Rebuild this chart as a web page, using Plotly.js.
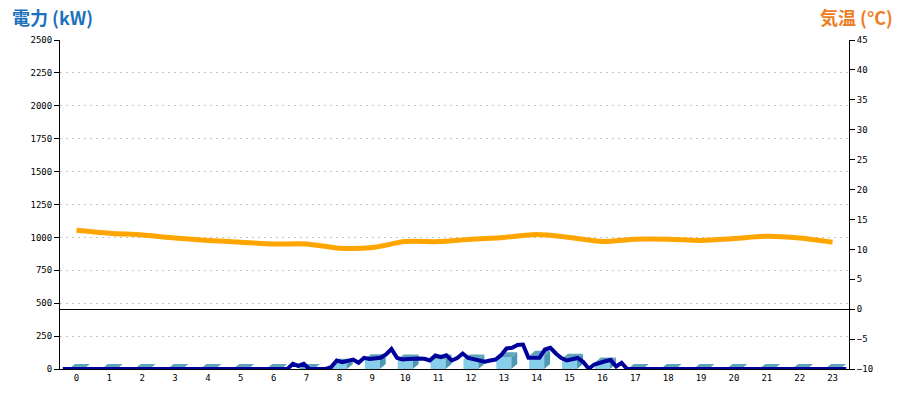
<!DOCTYPE html>
<html>
<head>
<meta charset="utf-8">
<script src="https://cdn.plot.ly/plotly-3.0.1.min.js"></script>
<style>html,body{margin:0;padding:0;background:#fff;}#chart{width:900px;height:400px;}</style>
</head>
<body>
<div id="chart"></div>
<script>
// ---- data ----
var hourLabels = ["0","1","2","3","4","5","6","7","8","9","10","11","12","13","14","15","16","17","18","19","20","21","22","23"];
var hours = [0,1,2,3,4,5,6,7,8,9,10,11,12,13,14,15,16,17,18,19,20,21,22,23];
// hourly power (kW) bars
var barPower = [0,0,0,0,0,0,0,0,40,75,72,72,72,90,100,78,50,0,0,0,0,0,0,0];
// 10-minute power readings (kW), one row per hour
var power10min = [
  0,0,0,0,0,0,  0,0,0,0,0,0,  0,0,0,0,0,0,  0,0,0,0,0,0,
  0,0,0,0,0,0,  0,0,0,0,0,0,  0,0,0,0,0,0,  40,23,40,0,0,0,
  0,15,65,52,59,72,  47,85,76,80,85,110,  152,85,72,76,80,80,  78,65,103,90,105,65,
  84,118,84,76,65,55,  65,72,105,156,161,182,  186,85,85,85,148,161,  118,84,65,76,84,53,
  2,34,49,59,68,19,  47,0,0,0,0,0,  0,0,0,0,0,0,  0,0,0,0,0,0,
  0,0,0,0,0,0,  0,0,0,0,0,0,  0,0,0,0,0,0,  0,0,0,0,0,0
];
// hourly temperature (°C)
var temperature = [13.2,12.7,12.4,11.9,11.5,11.2,10.9,10.9,10.2,10.3,11.3,11.3,11.7,12.0,12.5,12.0,11.3,11.7,11.7,11.5,11.8,12.2,11.9,11.2];

// ---- build traces ----
var W = 0.456, DX = 0.18, DY = 38;
var sideX = [], sideY = [], topX = [], topY = [];
for (var i = 0; i < hours.length; i++) {
  var c = hours[i], v = barPower[i];
  sideX.push(c + W/2, c + W/2 + DX, c + W/2 + DX, c + W/2, c + W/2, null);
  sideY.push(0, DY, v + DY, v, 0, null);
  topX.push(c - W/2, c + W/2, c + W/2 + DX, c - W/2 + DX, c - W/2, null);
  topY.push(v, v, v + DY, v + DY, v, null);
}
var tX = [];
for (var k = 0; k < power10min.length; k++) tX.push((k + 0.5) / 6 - 0.5);

var traces = [
  {type:'bar', x:hours, y:barPower, width:W, marker:{color:'#87ceeb', line:{width:0}}, hoverinfo:'skip', showlegend:false},
  {type:'scatter', mode:'lines', x:sideX, y:sideY, fill:'toself', fillcolor:'#4f98b3', line:{width:0, color:'#4f98b3'}, hoverinfo:'skip', showlegend:false},
  {type:'scatter', mode:'lines', x:topX, y:topY, fill:'toself', fillcolor:'#5fa3bd', line:{width:0, color:'#5fa3bd'}, hoverinfo:'skip', showlegend:false},
  {type:'scatter', mode:'lines', x:tX, y:power10min, line:{color:'#00009c', width:4}, showlegend:false},
  {type:'scatter', mode:'lines', x:hours, y:temperature, yaxis:'y2', line:{color:'#ffa500', width:5, shape:'spline', smoothing:0.8}, showlegend:false}
];

var tickFont = {family:'DejaVu Sans Mono', size:9, color:'#000'};
var layout = {
  width:900, height:400,
  margin:{l:60, r:51, t:40, b:31},
  paper_bgcolor:'#fff', plot_bgcolor:'#fff',
  showlegend:false,
  xaxis:{range:[-0.5,23.5], tickvals:hours, ticktext:hourLabels, showgrid:false, zeroline:false,
         showline:true, linecolor:'#000', linewidth:1, ticks:'', tickfont:tickFont, fixedrange:true},
  yaxis:{range:[0,2500], dtick:250, showgrid:true, gridcolor:'#c4c4c4', griddash:'2px,4px', gridwidth:1,
         zeroline:false, showline:true, linecolor:'#000', linewidth:1, ticks:'outside', ticklen:5, tickcolor:'#000',
         tickfont:tickFont, fixedrange:true},
  yaxis2:{range:[-10,45], dtick:5, overlaying:'y', side:'right', showgrid:false, zeroline:true, zerolinecolor:'#000', zerolinewidth:1,
          showline:true, linecolor:'#000', linewidth:1, ticks:'outside', ticklen:5, tickcolor:'#000', tickfont:tickFont, fixedrange:true},
  annotations:[
    {text:'<b>電力 (kW)</b>', xref:'paper', yref:'paper', x:-0.0634, y:1.0699, xanchor:'left', yanchor:'middle', showarrow:false,
     font:{family:'Noto Sans CJK JP', size:18, color:'#1d72bd'}},
    {text:'<b>気温 (°C)</b>', xref:'paper', yref:'paper', x:1.058, y:1.0699, xanchor:'right', yanchor:'middle', showarrow:false,
     font:{family:'Noto Sans CJK JP', size:18, color:'#ee7d26'}}
  ]
};
Plotly.newPlot('chart', traces, layout, {displayModeBar:false, staticPlot:true});
</script>
</body>
</html>
